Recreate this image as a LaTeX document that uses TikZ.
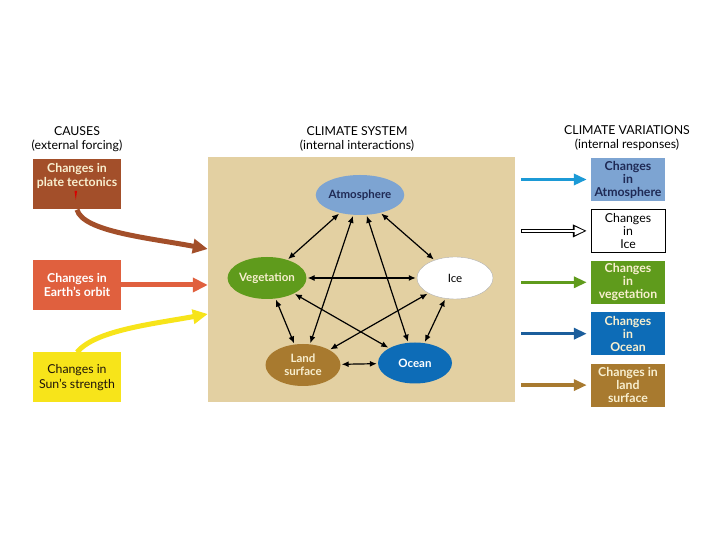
\documentclass[tikz,border=0pt]{standalone}
\usepackage{fontspec}
\setmainfont{Lato}
\usetikzlibrary{shapes.geometric, arrows.meta, positioning}

\definecolor{sysfill}{HTML}{E3D0A2}
\definecolor{tectcol}{HTML}{A34F2A}
\definecolor{orbitcol}{HTML}{E0603E}
\definecolor{suncol}{HTML}{F7E41A}
\definecolor{atmcol}{HTML}{7DA4D2}
\definecolor{vegcol}{HTML}{5F9B1C}
\definecolor{landcol}{HTML}{A87A2F}
\definecolor{oceancol}{HTML}{0D6CB7}
\definecolor{atmarrow}{HTML}{1C9AD6}
\definecolor{oceanarrow}{HTML}{1B5E9C}
\definecolor{navy}{HTML}{1F2A55}
\definecolor{cream}{HTML}{F8EFCF}

\begin{document}
\begin{tikzpicture}[
    x=1pt, y=1pt,
    node distance=8pt,
    every node/.style={font=\fontsize{12}{13.5}\selectfont},
    title/.style={align=center, font=\fontsize{12.3}{13.5}\selectfont},
    cause/.style={rectangle, minimum width=88pt, minimum height=50pt, inner sep=0pt,
        align=center, font=\bfseries\fontsize{12.3}{14.5}\selectfont},
    response/.style={rectangle, minimum width=74pt, minimum height=43pt, inner sep=0pt,
        align=center, font=\bfseries\fontsize{12.3}{13}\selectfont},
    part/.style={ellipse, minimum width=75pt, minimum height=42pt, inner sep=0pt,
        align=center, font=\bfseries\fontsize{11.5}{13}\selectfont},
    link/.style={{Latex[length=7pt,width=6pt]}-{Latex[length=7pt,width=6pt]},
        line width=1.2pt, shorten <=1pt, shorten >=1pt},
    forcing/.style={-{Triangle[length=15pt,width=14pt]}, line width=5pt},
    reply/.style={-{Triangle[length=13pt,width=11pt]}, line width=3.5pt}
]
\useasboundingbox (0,0) rectangle (720,540);

% Titoli
\node[title] (causes) at (77,401) {CAUSES\\(external forcing)};
\node[title] (system) at (357,401) {CLIMATE SYSTEM\\(internal interactions)};
\node[title] (variations) at (627,402) {CLIMATE VARIATIONS\\(internal responses)};

% Sistema climatico
\node[fill=sysfill, minimum width=307pt, minimum height=245pt] (sys) at (361.5,260.5) {};

\node[part, fill=atmcol, text=navy, minimum width=74pt, minimum height=40pt] (atm) at (360,345) {Atmosphere};
\node[part, fill=vegcol, text=cream] (veg) at (267,262) {Vegetation};
\node[part, fill=white, draw=gray!60, text=black, minimum width=76pt, font=\fontsize{11.5}{13}\selectfont] (ice) at (455,262) {Ice};
\node[part, fill=landcol, text=cream] (land) at (303,175) {Land\\surface};
\node[part, fill=oceancol, text=white, minimum width=74pt, minimum height=41pt] (ocean) at (415,177) {Ocean};

% Interazioni
\draw[link] (atm) -- (veg);
\draw[link] (atm) -- (ice);
\draw[link] (atm) -- (land);
\draw[link] (atm) -- (ocean);
\draw[link] (veg) -- (ice);
\draw[link] (veg) -- (land);
\draw[link] (veg) -- (ocean);
\draw[link] (ice) -- (land);
\draw[link] (ice) -- (ocean);
\draw[link] (land) -- (ocean);

% Cause
\node[cause, fill=tectcol, text=cream, text depth=19pt] (tect) at (77,355.5) {Changes in\\plate tectonics};
\node[cause, fill=orbitcol, text=white] (orbit) at (77,255) {Changes in\\Earth's orbit};
\node[cause, fill=suncol, text=black!85!brown, font=\fontsize{12.3}{14.5}\selectfont] (sun) at (77,162.5) {Changes in\\Sun's strength};
\fill[red!85!black] (74.5,349) -- (77,349) -- (75.8,340) -- cycle;

\draw[forcing, tectcol] (tect.south) .. controls +(6,-22) and +(-58,11) .. ([yshift=30.5pt]sys.west);
\draw[forcing, orbitcol] (orbit.east) -- (sys.west |- orbit.east);
\draw[forcing, suncol] (sun.north) .. controls +(18,22) and +(-55,-10) .. ([yshift=-34.5pt]sys.west);

% Risposte
\node[response, fill=atmcol, text=navy] (ratm) at (628,360.5) {Changes\\in\\Atmosphere};
\node[response, fill=white, draw=black, text=black, font=\fontsize{12.3}{13}\selectfont, below=of ratm] (rice) {Changes\\in\\Ice};
\node[response, fill=vegcol, text=cream, below=of rice] (rveg) {Changes\\in\\vegetation};
\node[response, fill=oceancol, text=cream, below=of rveg] (rocean) {Changes\\in\\Ocean};
\node[response, fill=landcol, text=cream, below=of rocean] (rland) {Changes in\\land\\surface};

\draw[reply, atmarrow] ([xshift=6pt]sys.east |- ratm.west) -- ([xshift=-4pt]ratm.west);
\draw[line width=4.5pt, -{Triangle[length=14pt,width=12pt]}] ([xshift=6pt]sys.east |- rice.west) -- ([xshift=-4pt]rice.west);
\draw[white, line width=2.4pt, -{Triangle[length=10pt,width=8pt]}, shorten >=2.2pt] ([xshift=7pt]sys.east |- rice.west) -- ([xshift=-4pt]rice.west);
\draw[reply, vegcol] ([xshift=6pt]sys.east |- rveg.west) -- ([xshift=-4pt]rveg.west);
\draw[reply, oceanarrow] ([xshift=6pt]sys.east |- rocean.west) -- ([xshift=-4pt]rocean.west);
\draw[reply, landcol] ([xshift=6pt]sys.east |- rland.west) -- ([xshift=-4pt]rland.west);

\end{tikzpicture}
\end{document}
